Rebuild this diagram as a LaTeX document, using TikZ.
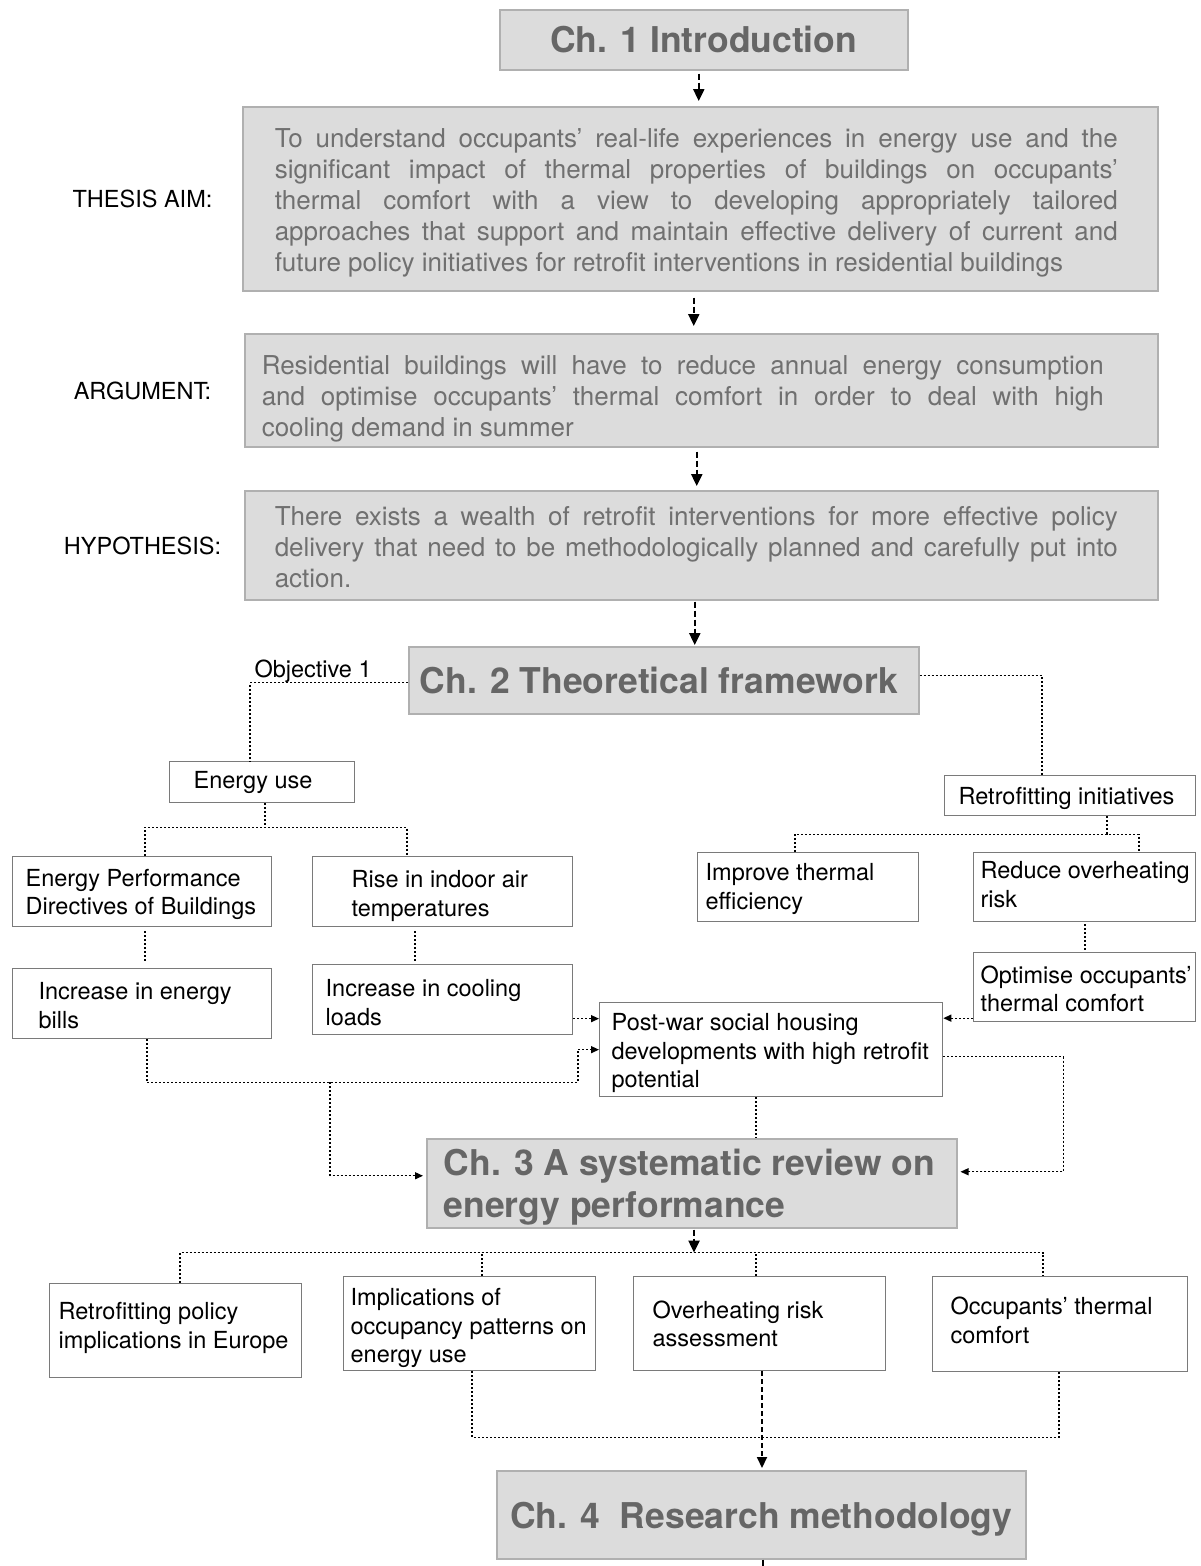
\documentclass[tikz,border=0pt]{standalone}
\usepackage{fontspec}
\setmainfont{TeX Gyre Heros}
\usetikzlibrary{arrows.meta}
\definecolor{gfill}{HTML}{DCDCDC}
\definecolor{gline}{HTML}{B0B0B0}
\definecolor{gtext}{HTML}{666666}
\definecolor{btext}{HTML}{707070}
\definecolor{wline}{HTML}{7A7A7A}
\newcommand{\boxlines}[3][4.5pt]{\makebox[#2][l]{\raisebox{-#1}[\height][\depth]{\begin{tabular}{@{}l@{}}#3\end{tabular}}}}
\newcommand{\jl}[1]{\makebox[843pt][s]{#1}}
\tikzset{
 wbox/.style={draw=wline, line width=1.3pt, fill=white, anchor=north west, inner sep=0pt,
   font=\fontsize{23.5}{28.5}\selectfont, text=black},
 gbox/.style={draw=gline, line width=1.5pt, fill=gfill, anchor=north west, inner sep=0pt},
 chtitle/.style={gbox, font=\fontsize{35.5}{42}\selectfont\bfseries, text=gtext},
 gpara/.style={gbox, font=\fontsize{26}{31}\selectfont, text=btext},
 lbl/.style={font=\fontsize{23.5}{28}\selectfont, text=black, anchor=base},
 dl/.style={dash pattern=on 2pt off 2pt, line width=1.3pt},
 darrow/.style={dl, -{Triangle[length=8pt,width=7pt]}},
 marrow/.style={dash pattern=on 6pt off 3pt, line width=2.4pt, -{Triangle[length=12pt,width=11pt]}},
}
\begin{document}
\begin{tikzpicture}[x=1pt,y=-1pt]
\fill[white] (0,0) rectangle (1200,1566);
\useasboundingbox (0,0) rectangle (1200,1566);

% chapter / gray boxes
\node[chtitle, minimum width=408pt, minimum height=60pt] (ch1) at (499,9) {Ch. 1 Introduction};

\node[gpara, minimum width=915pt, minimum height=184pt] (thesis) at (242,106) {\boxlines{851pt}{%
\jl{To understand occupants’ real-life experiences in energy use and the}\\
\jl{significant impact of thermal properties of buildings on occupants’}\\
\jl{thermal comfort with a view to developing appropriately tailored}\\
\jl{approaches that support and maintain effective delivery of current and}\\
future policy initiatives for retrofit interventions in residential buildings}};

\node[gpara, minimum width=913pt, minimum height=113pt] (arg) at (244,333) {\boxlines[9pt]{879pt}{%
\makebox[842pt][s]{Residential buildings will have to reduce annual energy consumption}\\
\makebox[842pt][s]{and optimise occupants’ thermal comfort in order to deal with high}\\
cooling demand in summer}};

\node[gpara, minimum width=913pt, minimum height=109pt] (hyp) at (244,490) {\boxlines[5pt]{853pt}{%
\jl{There exists a wealth of retrofit interventions for more effective policy}\\
\jl{delivery that need to be methodologically planned and carefully put into}\\
action.}};

\node[lbl] (laim) at (142.5,207.5) {THESIS AIM:};
\node[lbl] (larg) at (142.5,399.5) {ARGUMENT:};
\node[lbl] (lhyp) at (142.5,554.5) {HYPOTHESIS:};

\node[chtitle, minimum width=510pt, minimum height=67pt] (ch2) at (408,646) {\boxlines{488pt}{Ch. 2 Theoretical framework}};
\node[lbl, anchor=base west] (obj) at (251,677) {Objective 1};

% left branch
\node[wbox, minimum width=185pt, minimum height=41pt] (eu) at (169,761) {\boxlines[1pt]{137pt}{Energy use}};
\node[wbox, minimum width=259pt, minimum height=70pt] (epdb) at (12,856) {\boxlines[3pt]{233pt}{Energy Performance\\Directives of Buildings}};
\node[wbox, minimum width=260pt, minimum height=70pt] (rise) at (312,856) {\boxlines{182pt}{Rise in indoor air\\temperatures}};
\node[wbox, minimum width=259pt, minimum height=70pt] (bills) at (12,968) {\boxlines{207pt}{Increase in energy\\bills}};
\node[wbox, minimum width=260pt, minimum height=70pt] (cool) at (312,964) {\boxlines[5.5pt]{234pt}{Increase in cooling\\loads}};

% right branch
\node[wbox, minimum width=251pt, minimum height=40pt] (ret) at (944,775) {\boxlines[3pt]{223pt}{Retrofitting initiatives}};
\node[wbox, minimum width=221pt, minimum height=69pt] (imp) at (697,852) {\boxlines[2pt]{205pt}{Improve thermal\\efficiency}};
\node[wbox, minimum width=222pt, minimum height=69pt] (red) at (973,852) {\boxlines[0pt]{208pt}{Reduce overheating\\risk}};
\node[wbox, minimum width=222pt, minimum height=69pt] (opt) at (973,952) {\boxlines{208pt}{Optimise occupants’\\thermal comfort}};
\node[wbox, minimum width=343pt, minimum height=94pt] (pw) at (599,1002) {\boxlines[4pt]{319pt}{Post-war social housing\\developments with high retrofit\\potential}};

\node[chtitle, minimum width=530pt, minimum height=89pt] (ch3) at (426,1138) {\boxlines{496pt}{Ch. 3 A systematic review on\\energy performance}};

% bottom row
\node[wbox, minimum width=252pt, minimum height=94pt] (r1) at (49,1283) {\boxlines[-2.5pt]{234pt}{Retrofitting policy\\implications in Europe}};
\node[wbox, minimum width=252pt, minimum height=94pt] (r2) at (343,1276) {\boxlines[5pt]{238pt}{Implications of\\occupancy patterns on\\energy use}};
\node[wbox, minimum width=252pt, minimum height=94pt] (r3) at (633,1276) {\boxlines[3pt]{214pt}{Overheating risk\\assessment}};
\node[wbox, minimum width=255pt, minimum height=95pt] (r4) at (932,1276) {\boxlines[-1pt]{219pt}{Occupants’ thermal\\comfort}};

\node[chtitle, minimum width=529pt, minimum height=88pt] (ch4) at (496,1470) {\raisebox{-4pt}[\height][\depth]{Ch. 4~~Research methodology}};

% main flow arrows
\coordinate (a1) at ([xshift=-5pt]ch1.south);
\draw[marrow, shorten <=3pt, shorten >=5pt] (a1) -- (a1 |- thesis.north);
\coordinate (a2) at ([xshift=-6.5pt]thesis.south);
\draw[marrow, shorten <=6pt, shorten >=7pt] (a2) -- (a2 |- arg.north);
\coordinate (a3) at ([xshift=-4.5pt]arg.south);
\draw[marrow, shorten <=4pt, shorten >=4pt] (a3) -- (a3 |- hyp.north);
\coordinate (a4) at ([xshift=-6.5pt]hyp.south);
\draw[marrow, shorten <=1pt, shorten >=1pt] (a4) -- (a4 |- ch2.north);

% chapter 2 branches
\draw[dl] ([yshift=-2.5pt]ch2.west) -| ([xshift=81pt]eu.north west);
\draw[dl] ([yshift=4.5pt]ch2.east) -| ([xshift=98pt]ret.north west);

% energy use tree
\coordinate (e1) at ([xshift=96pt]eu.south west);
\coordinate (j1) at ([yshift=-24pt]e1);
\draw[dl] (e1) -- (j1);
\draw[dl] ([xshift=133pt]epdb.north west) |- (j1) -| ([xshift=95pt]rise.north west);
\draw[dl, shorten <=4pt, shorten >=6pt] ([xshift=133pt]epdb.south west) -- ([xshift=133pt]bills.north west);
\draw[dl, shorten <=4pt, shorten >=2pt] ([xshift=103pt]rise.south west) -- ([xshift=103pt]cool.north west);
\coordinate (c1) at ([yshift=-19pt]cool.east);
\draw[darrow] (c1) -- (c1 -| pw.west);
\coordinate (b1) at ([xshift=135pt]bills.south west);
\coordinate (jb) at ([yshift=-43pt]b1);
\draw[dl] (b1) -- (jb);
\draw[darrow] (jb) -- ++(431,0) |- (pw.west);
\coordinate (jd) at ([xshift=183pt]jb);
\draw[darrow, shorten >=3pt] (jd) |- ([yshift=7.5pt]ch3.west);

% retrofitting tree
\coordinate (f1) at ([xshift=163pt]ret.south west);
\coordinate (j2) at ([yshift=-18pt]f1);
\draw[dl] (f1) -- (j2);
\draw[dl] ([xshift=98pt]imp.north west) |- (j2) -| ([xshift=166pt]red.north west);
\draw[dl, shorten <=2pt, shorten >=2pt] ([xshift=112pt]red.south west) -- ([xshift=112pt]opt.north west);
\coordinate (c2) at ([yshift=-31pt]opt.west);
\draw[darrow] (c2) -- (c2 -| pw.east);
\draw[darrow, shorten >=3pt] ([yshift=-7pt]pw.east) -- ++(120,0) |- ([yshift=11.5pt]ch3.east);
\coordinate (c3) at ([xshift=157pt]pw.south west);
\draw[dl] (c3) -- (c3 |- ch3.north);

% chapter 3 to bottom row
\coordinate (c4) at ([xshift=268pt]ch3.south west);
\coordinate (j3) at ([yshift=-24pt]c4);
\draw[dl] ([xshift=131pt]r1.north west) |- (j3) -| ([xshift=111pt]r4.north west);
\coordinate (c5) at ([xshift=139pt]r2.north west);
\draw[dl] (c5) -- (c5 |- j3);
\coordinate (c6) at ([xshift=123pt]r3.north west);
\draw[dl] (c6) -- (c6 |- j3);
\draw[marrow, shorten <=1pt] (c4) -- (j3);

% bottom row to chapter 4
\coordinate (c7) at ([xshift=129pt]r2.south west);
\coordinate (j4) at ([yshift=-66pt]c7);
\draw[dl] (c7) -- (j4) -| ([xshift=127pt]r4.south west);
\coordinate (c8) at ([xshift=129pt]r3.south west);
\draw[dash pattern=on 5pt off 3pt, line width=1.8pt, -{Triangle[length=11pt,width=10pt]}, shorten >=2pt] (c8) -- (c8 |- ch4.north);
\coordinate (c9) at ([xshift=1.5pt]ch4.south);
\draw[line width=1.8pt] (c9) -- ++(0,8);
\end{tikzpicture}
\end{document}
